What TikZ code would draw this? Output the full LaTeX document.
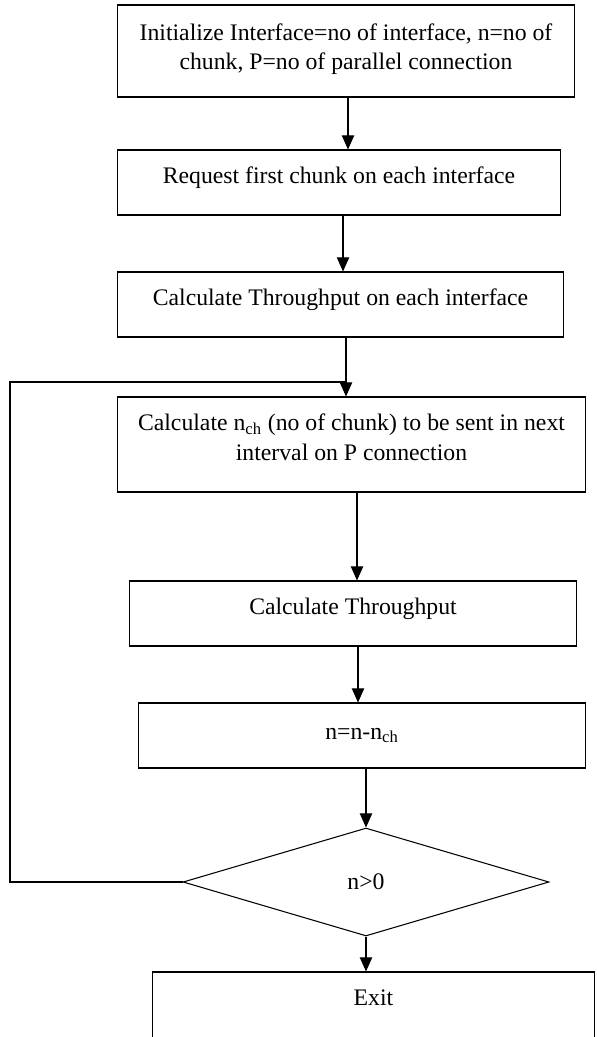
\documentclass[tikz,border=0pt]{standalone}
\usepackage{fontspec}
\setmainfont{Liberation Serif}
\usetikzlibrary{shapes.geometric,arrows.meta,calc}
\tikzset{
  stepbox/.style={draw, align=center, inner sep=0pt, minimum height=1.3cm},
  decision/.style={draw, diamond, inner sep=0pt, minimum width=7.32cm, minimum height=2.16cm}
}
\begin{document}
\begin{tikzpicture}[x=0.02cm, y=-0.02cm, >={Triangle[length=8pt,width=7pt]}, line width=0.6pt, font=\fontsize{13.5}{17}\selectfont]
            \useasboundingbox (0,0) rectangle (597,1037);
            \node[stepbox, minimum width=9.16cm, minimum height=1.84cm] (init) at (346,51) {Initialize Interface=no of interface, n=no of\\chunk, P=no of parallel connection\\[-12pt]};
            \node[stepbox, minimum width=8.88cm] (req) at (339,182.5) {Request first chunk on each interface\\[-9pt]};
            \node[stepbox, minimum width=8.94cm] (tput) at (340.5,304.5) {Calculate Throughput on each interface\\[-9pt]};
            \node[stepbox, minimum width=9.38cm, minimum height=1.9cm] (nch) at (351.5,444.5) {Calculate n\textsubscript{ch} (no of chunk) to be sent in next\\interval on P connection\\[-9pt]};
            \node[stepbox, minimum width=8.96cm] (thr) at (353,613.5) {Calculate Throughput\\[-9pt]};
            \node[stepbox, minimum width=8.96cm] (upd) at (362,735.5) {n=n-n\textsubscript{ch}};
            \node[decision] (test) at (366,882) {n>0};
            \node[stepbox, minimum width=8.86cm, minimum height=1.32cm] (exit) at (373.5,1005) {Exit\\[-9pt]};
            %\draw[gray!50,dashed] (0,0) grid[step=50] (597,1037);
            \coordinate (edge) at (10,382);
            \coordinate (join) at (346,382);
            \coordinate (drop) at (357,0);
            \draw[->] ([xshift=0.04cm]init.south) -- ([xshift=0.04cm]init.south |- req.north);
            \draw[->] ([xshift=0.08cm]req.south) -- ([xshift=0.08cm]req.south |- tput.north);
            \draw[->] (tput.south -| join) -- (nch.north -| join);
            \draw[->] (nch.south -| drop) -- (thr.north -| drop);
            \draw[->] ([xshift=0.1cm]thr.south) -- ([xshift=0.1cm]thr.south |- upd.north);
            \draw[->] ([xshift=0.08cm]upd.south) -- ([xshift=0.08cm]upd.south |- test.north);
            \draw[->] (test.south) -- (test.south |- exit.north);
            \draw (test.west) -| (edge) -- (join);
        \end{tikzpicture}
\end{document}
